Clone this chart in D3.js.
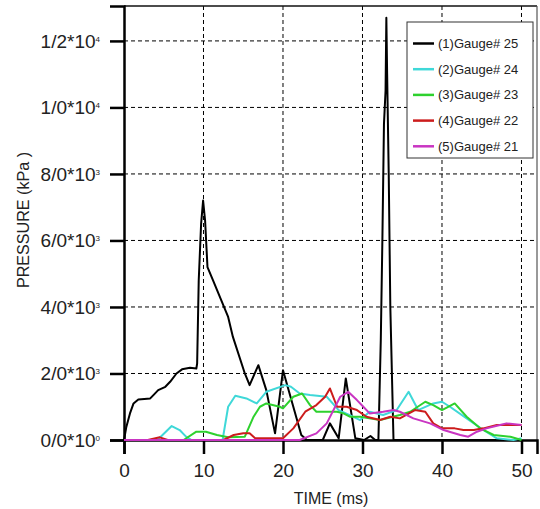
<!DOCTYPE html>
<html lang="en">

<head>
    <meta charset="UTF-8">
    <title>Gauge Pressure vs Time</title>
    <script src="https://d3js.org/d3.v7.min.js"></script>
    <style>
        body {
            margin: 0;
            background: #ffffff;
            font-family: Arial, 'Liberation Sans', sans-serif;
        }

        .tick text {
            fill: #222;
        }

        .grid line {
            stroke: #000;
            stroke-width: 1;
            stroke-dasharray: 4, 3;
        }
    </style>
</head>

<body>
    <svg width="540" height="509"></svg>

    <script>
        // ---- data ----
        const seriesNames = ["(1)Gauge# 25", "(2)Gauge# 24", "(3)Gauge# 23", "(4)Gauge# 22", "(5)Gauge# 21"];
        const seriesColors = ["#000000", "#3fd8d8", "#2ed12e", "#cc1c1c", "#c935c2"];

        const t25 = [0, 0.3, 0.75, 1.2, 1.8, 3.3, 3.7, 4.3, 5.2, 5.8, 6.6, 7.3, 8.3, 9.1, 9.2, 9.4, 9.7, 9.95, 10.2, 10.5, 11.2, 13.1, 13.7, 15.2, 15.8, 16.9, 17.9, 19.0, 20.0, 22.3, 23.0, 25.0, 25.9, 27.0, 27.9, 29.1, 30.2, 31.0, 31.6, 32.0, 32.3, 32.5, 32.7, 32.9, 33.0, 33.1, 33.3, 33.5, 33.9, 34.2, 50];
        const p25 = [0, 400, 800, 1100, 1220, 1250, 1350, 1500, 1600, 1750, 2000, 2125, 2170, 2150, 2300, 4800, 6500, 7200, 6600, 5200, 4800, 3700, 3100, 2000, 1650, 2250, 1500, 200, 2100, 150, 0, 0, 500, 50, 1850, 50, 0, 120, 0, 0, 3000, 6000, 9500, 10500, 12700, 11000, 8000, 4000, 0, 0, 0];

        const t24 = [0, 4.2, 6.0, 7.0, 7.8, 8.5, 12.4, 13.1, 14.0, 15.4, 16.7, 17.9, 20.3, 21.0, 22.1, 23.4, 25.5, 27.0, 28.4, 29.7, 30.9, 32.6, 34.3, 35.8, 37.0, 38.9, 40.0, 41.0, 43.1, 45.2, 46.9, 49.0, 50];
        const p24 = [0, 0, 420, 300, 100, 0, 0, 1000, 1330, 1250, 1100, 1450, 1650, 1600, 1400, 1350, 1300, 900, 750, 600, 850, 750, 900, 1450, 900, 1100, 1150, 1000, 650, 300, 50, 0, 50];

        const t23 = [0, 7.5, 9.1, 10.3, 11.7, 13.1, 15.2, 16.3, 17.1, 17.9, 19.6, 20.0, 21.3, 22.4, 23.4, 24.2, 25.5, 26.8, 27.6, 28.4, 29.7, 32.2, 34.7, 36.0, 37.9, 38.9, 40.0, 41.6, 43.1, 44.8, 46.5, 48.6, 50];
        const p23 = [0, 0, 250, 250, 150, 80, 100, 700, 1000, 1100, 1000, 950, 1300, 1400, 1050, 850, 850, 850, 800, 700, 700, 600, 750, 850, 1150, 1050, 900, 1100, 700, 350, 150, 100, 0];

        const t22 = [0, 3.0, 4.5, 5.5, 12.5, 13.8, 15.0, 15.8, 16.5, 17.6, 20.0, 21.3, 22.8, 24.2, 25.3, 25.9, 26.8, 28.0, 29.3, 30.5, 32.2, 33.5, 34.7, 36.6, 37.9, 38.9, 40.0, 41.6, 42.7, 44.0, 45.2, 46.9, 50];
        const p22 = [0, 0, 80, 0, 0, 150, 200, 200, 50, 50, 50, 350, 850, 1050, 1300, 1550, 1000, 1000, 900, 700, 600, 700, 650, 900, 850, 500, 350, 350, 300, 300, 350, 450, 450];

        const t21 = [0, 22.1, 24.2, 25.5, 27.2, 28.2, 29.3, 30.1, 30.9, 32.6, 33.9, 34.7, 36.4, 38.5, 40.2, 42.3, 43.3, 44.4, 45.6, 47.3, 48.1, 50];
        const p21 = [0, 0, 200, 500, 1300, 1450, 1200, 1000, 800, 850, 900, 850, 650, 500, 300, 150, 100, 250, 350, 450, 500, 450];

        const xTicks = [0, 10, 20, 30, 40, 50];
        const yTicks = [0, 2000, 4000, 6000, 8000, 10000, 12000];
        const yTickBase = ["0/0*10", "2/0*10", "4/0*10", "6/0*10", "8/0*10", "1/0*10", "1/2*10"];
        const yTickExp = ["0", "3", "3", "3", "3", "4", "4"];

        const timeSeries = [t25, t24, t23, t22, t21];
        const pressureSeries = [p25, p24, p23, p22, p21];

        // ---- layout ----
        const margin = { top: 6, right: 3, bottom: 69, left: 124 };
        const width = 540 - margin.left - margin.right;
        const height = 509 - margin.top - margin.bottom;

        const svg = d3.select("svg")
            .append("g")
            .attr("transform", `translate(${margin.left},${margin.top})`);

        const x = d3.scaleLinear().domain([0, 51.95]).range([0, width]);
        const y = d3.scaleLinear().domain([0, 13050]).range([height, 0]);

        // grid lines
        svg.append("g")
            .attr("class", "grid")
            .selectAll("line")
            .data(xTicks.slice(1))
            .join("line")
            .attr("x1", d => x(d)).attr("x2", d => x(d))
            .attr("y1", 0).attr("y2", height);

        svg.append("g")
            .attr("class", "grid")
            .selectAll("line")
            .data(yTicks.slice(1))
            .join("line")
            .attr("x1", 0).attr("x2", width)
            .attr("y1", d => y(d)).attr("y2", d => y(d));

        // frame (top/right thin)
        svg.append("line")
            .attr("x1", 0).attr("x2", width).attr("y1", 0).attr("y2", 0)
            .attr("stroke", "#111").attr("stroke-width", 1.5);
        svg.append("line")
            .attr("x1", width).attr("x2", width).attr("y1", 0).attr("y2", height)
            .attr("stroke", "#555").attr("stroke-width", 1.2);

        // axes
        const xAxis = svg.append("g")
            .attr("transform", `translate(0,${height})`)
            .call(d3.axisBottom(x).tickValues(xTicks).tickSize(14).tickPadding(10));
        xAxis.selectAll("text").style("font-size", "19px");

        const yAxis = svg.append("g")
            .call(d3.axisLeft(y).tickValues(yTicks).tickSize(14).tickPadding(10).tickFormat(""));
        yAxis.selectAll(".tick text")
            .style("font-size", "19px")
            .each(function (d, i) {
                const txt = d3.select(this);
                txt.append("tspan").text(yTickBase[i]);
                txt.append("tspan")
                    .attr("dy", "-0.7em")
                    .style("font-size", "8px")
                    .text(yTickExp[i]);
            });

        [xAxis, yAxis].forEach(ax => {
            ax.select(".domain").attr("stroke", "#000").attr("stroke-width", 2.5);
            ax.selectAll(".tick line").attr("stroke", "#000").attr("stroke-width", 2.5);
        });

        // lines (drawn over the axes so the baseline shows the last series)
        const line = d3.line()
            .x(d => x(d[0]))
            .y(d => y(d[1]));

        timeSeries.forEach((ts, i) => {
            const pts = ts.map((t, j) => [t, pressureSeries[i][j]]);
            svg.append("path")
                .datum(pts)
                .attr("fill", "none")
                .attr("stroke", seriesColors[i])
                .attr("stroke-width", 2)
                .attr("stroke-linejoin", "round")
                .attr("d", line);
        });

        // legend
        const legend = svg.append("g")
            .attr("transform", `translate(${407 - margin.left},${22 - margin.top})`);

        legend.append("rect")
            .attr("width", 126)
            .attr("height", 136)
            .attr("fill", "#fff")
            .attr("stroke", "#333")
            .attr("stroke-width", 1);

        seriesNames.forEach((name, i) => {
            const ly = 21.5 + i * 25.7;
            legend.append("line")
                .attr("x1", 6).attr("x2", 27)
                .attr("y1", ly).attr("y2", ly)
                .attr("stroke", seriesColors[i])
                .attr("stroke-width", 2.5);
            legend.append("text")
                .attr("x", 31)
                .attr("y", ly + 4.5)
                .style("font-size", "13px")
                .attr("fill", "#222")
                .text(name);
        });

        // axis labels
        svg.append("text")
            .attr("x", 331 - margin.left)
            .attr("y", 504 - margin.top)
            .style("text-anchor", "middle")
            .style("font-size", "16px")
            .attr("fill", "#222")
            .text("TIME (ms)");

        svg.append("text")
            .attr("transform", "rotate(-90)")
            .attr("x", -(220 - margin.top))
            .attr("y", 29 - margin.left)
            .style("text-anchor", "middle")
            .style("font-size", "17px")
            .attr("textLength", 136)
            .attr("lengthAdjust", "spacingAndGlyphs")
            .attr("fill", "#222")
            .text("PRESSURE (kPa )");
    </script>
</body>

</html>
